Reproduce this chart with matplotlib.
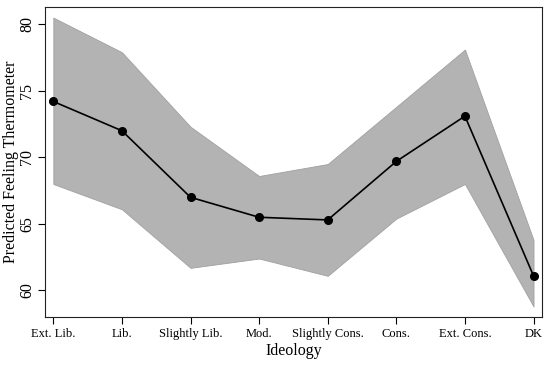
import matplotlib
matplotlib.use("Agg")
import matplotlib.pyplot as plt

plt.rcParams['font.family'] = ['Liberation Serif', 'DejaVu Serif']

# data
categories = ["Ext. Lib.", "Lib.", "Slightly Lib.", "Mod.", "Slightly Cons.",
              "Cons.", "Ext. Cons.", "DK"]
predicted = [74.2, 72.0, 67.0, 65.5, 65.3, 69.7, 73.1, 61.1]
upper_ci = [80.5, 77.9, 72.3, 68.6, 69.5, 73.8, 78.1, 63.8]
lower_ci = [68.0, 66.1, 61.7, 62.4, 61.1, 65.4, 68.0, 58.8]
y_ticks = [60, 65, 70, 75, 80]

fig = plt.figure(figsize=(5.5, 3.67), dpi=100)
ax = fig.add_axes([0.082, 0.136, 0.903, 0.845])

x = list(range(len(categories)))
ax.fill_between(x, lower_ci, upper_ci, facecolor='#b3b3b3',
                edgecolor='#a0a0a0', linewidth=0.6)
ax.plot(x, predicted, color='black', linewidth=1.2, marker='o',
        markersize=5.5, zorder=3)

ax.set_xlim(-0.12, 7.12)
ax.set_ylim(58.0, 81.3)
ax.set_xticks(x)
ax.set_xticklabels(categories, fontsize=9)
ax.set_yticks(y_ticks)
ax.set_yticklabels([str(v) for v in y_ticks], fontsize=11.5, rotation=90,
                   va='center')
ax.tick_params(direction='out', length=5, width=0.8, pad=3)
ax.tick_params(axis='y', pad=2)

ax.set_xlabel("Ideology", fontsize=11.5, labelpad=2)
ax.set_ylabel("Predicted Feeling Thermometer", fontsize=11.5)
ax.yaxis.set_label_coords(-0.052, 0.5)

for side in ax.spines.values():
    side.set_linewidth(0.8)
    side.set_color('#222222')

fig.savefig("out.png", dpi=100)
